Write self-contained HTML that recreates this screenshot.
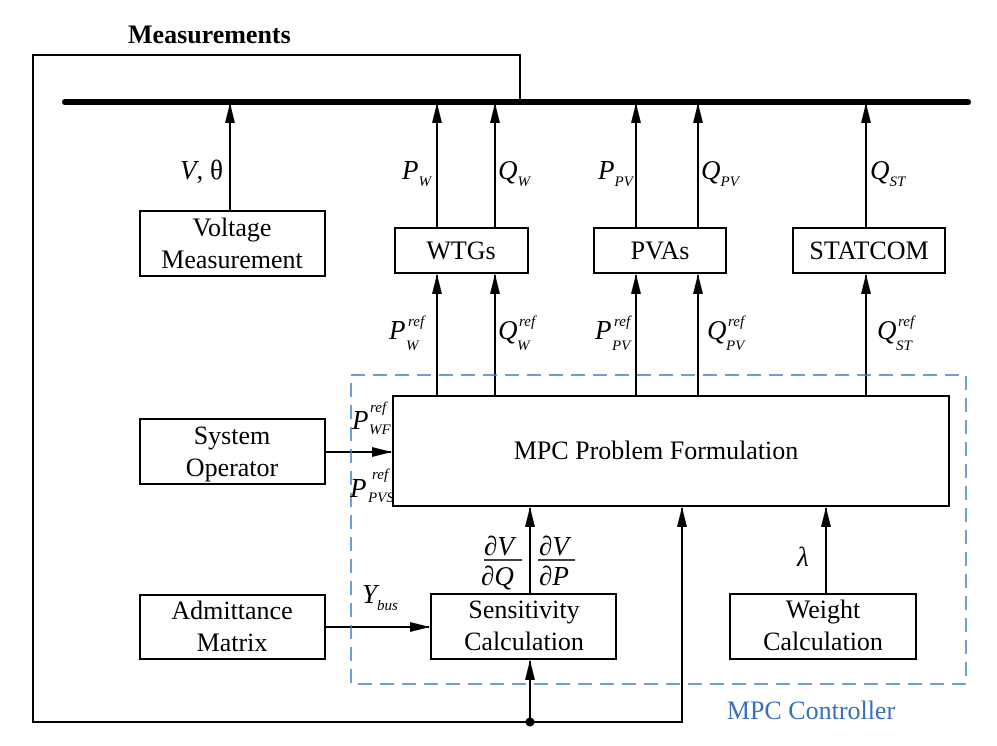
<!DOCTYPE html>
<html><head><meta charset="utf-8"><style>body{margin:0;background:#fff}svg{display:block}</style></head><body>
<svg width="997" height="746" viewBox="0 0 997 746" xmlns="http://www.w3.org/2000/svg" font-family="Liberation Serif, serif">
<defs>
<marker id="b" markerWidth="20" markerHeight="12" refX="19" refY="6" orient="auto" markerUnits="userSpaceOnUse"><path d="M0,1 L20,6 L0,11 z" fill="#000"/></marker></defs>
<g stroke="#000" stroke-width="2" fill="none">
<line x1="65" y1="102" x2="968" y2="102" stroke-width="6" stroke-linecap="round"/>
<polyline points="520,102 520,55 33,55 33,722 682,722 682,508" marker-end="url(#b)"/>
<line x1="530" y1="722" x2="530" y2="661" marker-end="url(#b)"/>
<line x1="230" y1="211" x2="230" y2="104" marker-end="url(#b)"/>
<line x1="437" y1="228" x2="437" y2="104" marker-end="url(#b)"/>
<line x1="495" y1="228" x2="495" y2="104" marker-end="url(#b)"/>
<line x1="636" y1="228" x2="636" y2="104" marker-end="url(#b)"/>
<line x1="698" y1="228" x2="698" y2="104" marker-end="url(#b)"/>
<line x1="866" y1="228" x2="866" y2="104" marker-end="url(#b)"/>
<line x1="437" y1="396" x2="437" y2="275" marker-end="url(#b)"/>
<line x1="495" y1="396" x2="495" y2="275" marker-end="url(#b)"/>
<line x1="636" y1="396" x2="636" y2="275" marker-end="url(#b)"/>
<line x1="698" y1="396" x2="698" y2="275" marker-end="url(#b)"/>
<line x1="866" y1="396" x2="866" y2="275" marker-end="url(#b)"/>
<line x1="325" y1="452" x2="391" y2="452" marker-end="url(#b)"/>
<line x1="325" y1="627" x2="429" y2="627" marker-end="url(#b)"/>
<line x1="530" y1="594" x2="530" y2="508" marker-end="url(#b)"/>
<line x1="826" y1="594" x2="826" y2="508" marker-end="url(#b)"/>
<rect x="140" y="211" width="185" height="65"/>
<rect x="395" y="228" width="133" height="45"/>
<rect x="594" y="228" width="132" height="45"/>
<rect x="793" y="228" width="152" height="45"/>
<rect x="393" y="396" width="556" height="110"/>
<rect x="140" y="419" width="185" height="65"/>
<rect x="140" y="595" width="185" height="64"/>
<rect x="431" y="594" width="185" height="65"/>
<rect x="730" y="594" width="186" height="65"/>
<rect x="351" y="375" width="615" height="309" stroke="#3a7fcf" stroke-width="1.5" stroke-dasharray="14,8"/>
</g>
<circle cx="530" cy="722" r="4.5" fill="#000"/>
<g font-size="26" text-anchor="middle" fill="#000">
<text x="232" y="236">Voltage</text><text x="232" y="268">Measurement</text>
<text x="461" y="259">WTGs</text><text x="660" y="259">PVAs</text><text x="869" y="259">STATCOM</text>
<text x="656" y="459">MPC Problem Formulation</text>
<text x="232" y="444">System</text><text x="232" y="476">Operator</text>
<text x="232" y="619">Admittance</text><text x="232" y="651">Matrix</text>
<text x="524" y="618">Sensitivity</text><text x="524" y="650">Calculation</text>
<text x="823" y="618">Weight</text><text x="823" y="650">Calculation</text>
<text x="811" y="719" fill="#3a6fc0">MPC Controller</text>
</g>
<text x="128" y="43" font-size="26" font-weight="bold">Measurements</text>
<g font-size="27" font-style="italic" fill="#000">
<text x="180" y="179">V<tspan font-style="normal">, θ</tspan></text>
<text x="402" y="179">P<tspan font-size="15" dy="7">W</tspan></text>
<text x="498" y="179">Q<tspan font-size="15" dy="7">W</tspan></text>
<text x="598" y="179">P<tspan font-size="15" dy="7">PV</tspan></text>
<text x="701" y="179">Q<tspan font-size="15" dy="7">PV</tspan></text>
<text x="870" y="179">Q<tspan font-size="15" dy="7">ST</tspan></text>
<text x="389" y="339">P</text><text x="408" y="326" font-size="15">ref</text><text x="406" y="350" font-size="15">W</text>
<text x="498" y="339">Q</text><text x="519" y="326" font-size="15">ref</text><text x="517" y="350" font-size="15">W</text>
<text x="595" y="339">P</text><text x="614" y="326" font-size="15">ref</text><text x="612" y="350" font-size="15">PV</text>
<text x="707" y="339">Q</text><text x="728" y="326" font-size="15">ref</text><text x="726" y="350" font-size="15">PV</text>
<text x="877" y="339">Q</text><text x="898" y="326" font-size="15">ref</text><text x="896" y="350" font-size="15">ST</text>
<text x="352" y="429">P</text><text x="370" y="412" font-size="15">ref</text><text x="369" y="434" font-size="15">WF</text>
<text x="350" y="497">P</text><text x="372" y="479" font-size="15">ref</text><text x="368" y="502" font-size="15">PVS</text>
<text x="362" y="603">Y<tspan font-size="15" dy="7">bus</tspan></text>
<text x="797" y="566">λ</text>
<text x="484" y="555">∂V</text><line x1="484" y1="560" x2="522" y2="560" stroke="#000" stroke-width="1.5"/><text x="481" y="585">∂Q</text>
<text x="539" y="555">∂V</text><line x1="538" y1="560" x2="575" y2="560" stroke="#000" stroke-width="1.5"/><text x="539" y="585">∂P</text>
</g>
</svg>
</body></html>
